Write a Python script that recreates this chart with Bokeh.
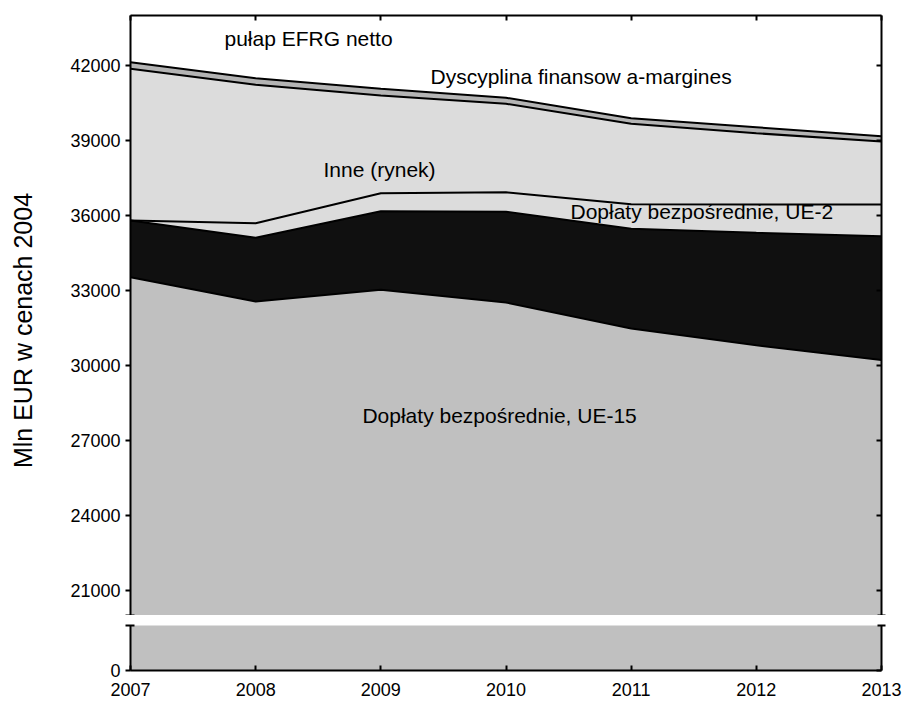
import numpy as np
from math import pi
from bokeh.plotting import figure
from bokeh.models import LinearAxis, FixedTicker, Label, Range1d
from bokeh.layouts import column, row
from bokeh.embed import file_html
from bokeh.resources import INLINE

# ---- data (Mln EUR, ceny 2004) ----
years = [2007, 2008, 2009, 2010, 2011, 2012, 2013]
ue15 = [33530, 32560, 33030, 32520, 31480, 30810, 30220]      # Dopłaty bezpośrednie, UE-15
ue10 = [2270, 2550, 3140, 3630, 3990, 4500, 4950]             # czarne pasmo
ue2 = [0, 580, 720, 780, 980, 1130, 1270]                     # Dopłaty bezpośrednie, UE-2
inne = [6070, 5540, 3910, 3540, 3220, 2850, 2520]             # Inne (rynek)
margines = [260, 260, 270, 240, 220, 240, 210]                # Dyscyplina finansowa - margines

upper_ticks = [21000, 24000, 27000, 30000, 33000, 36000, 39000, 42000]
upper_range = (20000, 44000)
lower_ticks = [0]
lower_range = (0, 1800)

# cumulative tops
t1 = np.array(ue15, dtype=float)
t2 = t1 + np.array(ue10)
t3 = t2 + np.array(ue2)
t4 = t3 + np.array(inne)
t5 = t4 + np.array(margines)

FONT = "Liberation Sans"
GRAY = "#c0c0c0"
BLACK = "#101010"
LIGHT = "#dcdcdc"
MID = "#b4b4b4"

TW = 40            # width of the strip holding the y-axis title
W = 902 - TW
L = 130 - TW
R = W - L - 751
H1, H2 = 615, 87

xr = Range1d(years[0], years[-1])

# ---------- y-axis title strip ----------
pt = figure(width=TW, height=H1 + H2, x_range=Range1d(0, TW), y_range=Range1d(0, H1 + H2),
            output_backend="svg", toolbar_location=None,
            x_axis_location=None, y_axis_location=None,
            min_border=0, outline_line_color=None,
            background_fill_color="white", border_fill_color="white")
pt.grid.visible = False
pt.add_layout(Label(x=22, y=H1 + H2 - 330, text="Mln EUR w cenach 2004", angle=pi / 2,
                    text_align="center", text_baseline="middle",
                    text_font=FONT, text_font_size="25px", text_color="black"))

# ---------- upper panel ----------
p1 = figure(width=W, height=H1, x_range=xr, y_range=Range1d(*upper_range),
            output_backend="svg", toolbar_location=None, x_axis_location="above",
            min_border_left=L, min_border_right=R, min_border_top=15, min_border_bottom=0,
            outline_line_color=None, background_fill_color="white", border_fill_color="white")
p1.grid.visible = False

p1.varea(x=years, y1=0, y2=t1, fill_color=GRAY)
p1.varea(x=years, y1=t1, y2=t2, fill_color=BLACK)
p1.varea(x=years, y1=t2, y2=t3, fill_color=LIGHT)
p1.varea(x=years, y1=t3, y2=t4, fill_color=LIGHT)
p1.varea(x=years, y1=t4, y2=t5, fill_color=MID)
for t in (t1, t2, t3, t4, t5):
    p1.line(x=years, y=t, line_color="black", line_width=2)

def style_axis(ax, labels=True, t_in=0, t_out=5, m_in=4, m_out=5):
    ax.axis_line_color = "black"
    ax.axis_line_width = 2
    ax.major_tick_line_color = "black"
    ax.major_tick_line_width = 2
    ax.minor_tick_line_color = "black"
    ax.minor_tick_line_width = 2
    ax.major_tick_in = t_in
    ax.major_tick_out = t_out
    ax.minor_tick_in = m_in
    ax.minor_tick_out = m_out
    if labels:
        ax.major_label_text_font = FONT
        ax.major_label_text_font_size = "18px"
        ax.major_label_text_color = "black"
        ax.major_label_standoff = 5
    else:
        ax.major_label_text_font_size = "1px"
        ax.major_label_text_color = None
        ax.major_label_standoff = 0

# top x axis (ticks only)
ax_top = p1.xaxis[0]
ax_top.ticker = FixedTicker(ticks=years, minor_ticks=[])
style_axis(ax_top, labels=False, t_in=5, t_out=0, m_in=0, m_out=0)

# left y axis
ax_l = p1.yaxis[0]
ax_l.ticker = FixedTicker(ticks=upper_ticks, minor_ticks=[upper_range[0]])
style_axis(ax_l, labels=True, t_in=0, t_out=5, m_in=4, m_out=5)

# right y axis
ax_r = LinearAxis(ticker=FixedTicker(ticks=upper_ticks, minor_ticks=[upper_range[0]]))
style_axis(ax_r, labels=False, t_in=5, t_out=0, m_in=4, m_out=4)
p1.add_layout(ax_r, "right")

labels = [
    ("pułap EFRG netto", 2007.751, 43080),
    ("Dyscyplina finansow a-margines", 2009.397, 41560),
    ("Inne (rynek)", 2008.542, 37840),
    ("Dopłaty bezpośrednie, UE-2", 2010.515, 36150),
    ("Dopłaty bezpośrednie, UE-15", 2008.853, 28010),
]
for txt, lx, ly in labels:
    p1.add_layout(Label(x=lx, y=ly, text=txt, text_align="left", text_baseline="alphabetic",
                        text_font=FONT, text_font_size="21px", text_color="black"))

# ---------- lower panel ----------
p2 = figure(width=W, height=H2, x_range=xr, y_range=Range1d(*lower_range),
            output_backend="svg", toolbar_location=None,
            min_border_left=L, min_border_right=R, min_border_top=10, min_border_bottom=32,
            outline_line_color=None, background_fill_color="white", border_fill_color="white")
p2.grid.visible = False
p2.varea(x=years, y1=0, y2=t1, fill_color=GRAY)

ax_b = p2.xaxis[0]
ax_b.ticker = FixedTicker(ticks=years, minor_ticks=[])
style_axis(ax_b, labels=True, t_in=5, t_out=0, m_in=0, m_out=0)
ax_b.major_label_standoff = 12

ax_l2 = p2.yaxis[0]
ax_l2.ticker = FixedTicker(ticks=lower_ticks, minor_ticks=[lower_range[1]])
style_axis(ax_l2, labels=True, t_in=0, t_out=5, m_in=4, m_out=5)

ax_r2 = LinearAxis(ticker=FixedTicker(ticks=lower_ticks, minor_ticks=[lower_range[1]]))
style_axis(ax_r2, labels=False, t_in=5, t_out=0, m_in=4, m_out=4)
p2.add_layout(ax_r2, "right")

layout = row(pt, column(p1, p2, spacing=0), spacing=0)
open("out.html", "w").write(file_html(layout, INLINE))
